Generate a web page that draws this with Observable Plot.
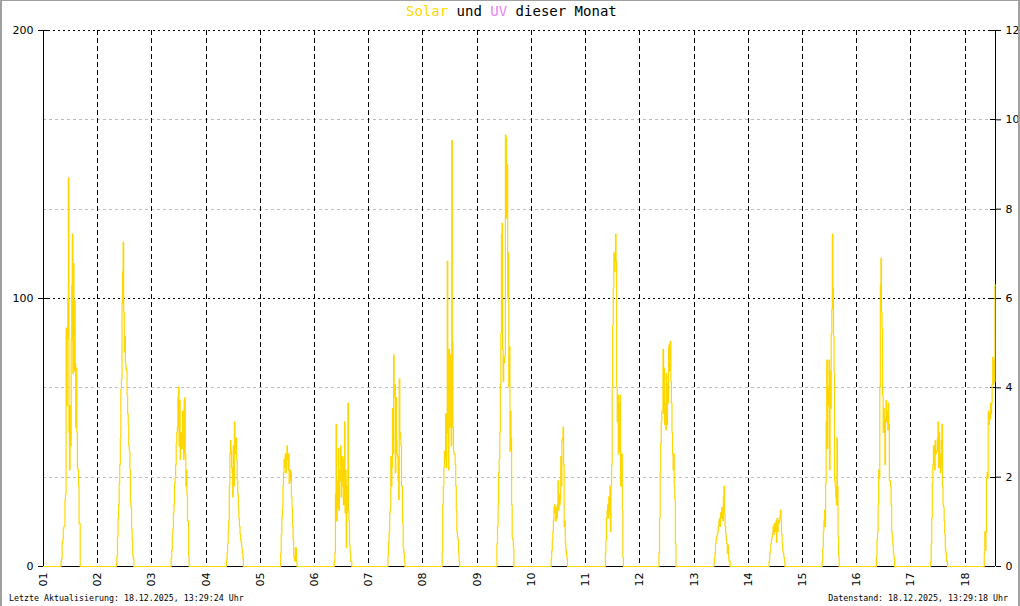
<!DOCTYPE html>
<html><head><meta charset="utf-8">
<script src="https://cdn.jsdelivr.net/npm/d3@7"></script>
<script src="https://cdn.jsdelivr.net/npm/@observablehq/plot@0.6"></script>
<style>
html,body{margin:0;padding:0;background:#fff;}
#wrap{position:relative;width:1020px;height:606px;overflow:hidden;background:#fff;}
#chart{position:absolute;left:0;top:0;}
#frame{position:absolute;left:0;top:0;width:1020px;height:606px;box-sizing:border-box;border-left:2px solid #a0a0a0;border-right:2px solid #a0a0a0;border-top:1px solid #a0a0a0;pointer-events:none;}
#title{position:absolute;left:406px;top:3px;font:14px "DejaVu Sans Mono",monospace;white-space:pre;color:#000;}
.foot{position:absolute;top:593px;font:8.3px "DejaVu Sans Mono",monospace;white-space:pre;color:#000;}
</style></head>
<body>
<div id="wrap">
  <div id="chart"></div>
  <div id="title"><span style="color:#FFD700">Solar</span> und <span style="color:#EE82EE">UV</span> dieser Monat</div>
  <div class="foot" style="left:9px">Letzte Aktualisierung: 18.12.2025, 13:29:24 Uhr</div>
  <div class="foot" style="right:12px">Datenstand: 18.12.2025, 13:29:18 Uhr</div>
  <div id="frame"></div>
</div>
<script>
// Day labels (x axis)
const dayLabels = ["01","02","03","04","05","06","07","08","09","10","11","12","13","14","15","16","17","18"];
// Left (solar) ticks and right (UV) ticks
const solarTicks = [0, 100, 200];
const uvTicks = [0, 2, 4, 6, 8, 10, 12];
const solarMax = 200, uvMax = 12;
// Hour of first non-zero reading each day; readings every 15 minutes afterwards
const dayStart = [7.75, 8.25, 8.5, 9.0, 9.0, 8.75, 8.5, 8.5, 8.75, 8.75, 8.75, 8.5, 8.75, 9.25, 8.75, 8.75, 8.75, 8.5];
// Last data time: 18.12. 13:29
const lastHour = 13 + 29 / 60;

const solar01 = [2,3,9,10,14,15,15,25,27,89,60,85,100,145,50,36,60,45,85,105,124,72,113,73,99,76,52,74,50,37,36,30,16,16];
const solar02 = [1,4,11,18,23,31,38,48,66,70,98,110,121,95,80,86,76,74,73,64,57,53,45,43,36,24,22,14,10,4,3];
const solar03 = [3,6,11,14,20,23,31,33,38,46,50,52,63,67,45,62,40,50,48,44,58,48,40,62,63,42,30,36,27,17,17,4];
const solar04 = [2.5,5,8.5,13,17,30,42,47,43,37,35,26,45,30,54,42,47,48,40,32,27,22,18,15,12,10,9,7,5,3];
const solar05 = [5,12,18,22,30,35,40,37,42,35,40,45,40,36,42,31,32,36,35,26,22,15,10,4,3,2,7,7,2];
const solar06 = [2,5,27,53,17,22,32,44,21,32,36,45,26,30,41,32,23,40,54,20,36,7,20,30,61,21,17,8,5,2,2];
const solar07 = [4,9,13,20,22,41,30,37,59,42,79,63,68,35,63,47,42,41,32,25,70,50,48,45,30,30,16,7,5,2];
const solar08 = [5,23,30,37,43,40,57,37,50,114,61,36,81,52,62,79,45,159,84,52,43,42,42,38,30,21,13,11,10,5,2];
const solar09 = [8.5,15,23,35,40,50,68,87,124,128,81,69,78,76,79,161,160,130,150,100,117,67,82,43,58,48,23,11,10,7];
const solar10 = [3,6,10,13,17,22,23,20,17,22,18,23,32,21,27,23,25,41,30,47,48,52,38,15,17,9,6,4,3];
const solar11 = [5,10,18,21,23,18,26,20,30,13,30,38,67,90,104,117,110,117,124,114,67,54,64,42,61,43,64,30,35,42,21,3.5];
const solar12 = [5,18,35,46,54,58,58,81,57,74,53,61,51,72,53,68,61,82,83,73,84,69,61,50,42,36,42,30,25,8.5];
const solar13 = [1,3,5,8.5,10,11,12,13,15,17,18,15,20,18,22,20,17,26,30,20,15,12,10,8.5,5,8,3.5,2,2];
const solar14 = [2,5,6,8.5,10,11,12,15,12,16,13,15,17,9,18,13,17,16,18,19,21,17,12,9,6,5,3.5,2];
const solar15 = [2,7,13,17,21,15,31,54,77,44,60,67,77,36,73,59,87,96,124,104,86,72,32,30,26,23,48,30,11,4];
const solar16 = [3.5,10,13,23,36,33,67,105,115,95,89,64,50,59,52,38,55,62,54,58,51,61,53,32,32,30,23,13,11,8,5,3.5];
const solar17 = [2,8.5,18,31,38,45,40,36,47,42,43,43,48,54,37,50,42,35,37,47,53,30,23,22,17,12,7,5,2,2];
const solar18 = [5,13,6,13,33,35,33,58,53,57,55,61,57,61,68,78,68,77,69,105];

const solarDays = [solar01,solar02,solar03,solar04,solar05,solar06,solar07,solar08,solar09,solar10,solar11,solar12,solar13,solar14,solar15,solar16,solar17,solar18];

// Build series (x in days since 01.12. 00:00)
const lastTime = (solarDays.length - 1) + lastHour / 24;
const pts = [{t: 0, v: 0}];
solarDays.forEach((vals, i) => {
  const s = dayStart[i];
  vals.forEach((v, j) => pts.push({t: i + (s + j * 0.25) / 24, v}));
  if (i < solarDays.length - 1) pts.push({t: i + (s + vals.length * 0.25) / 24, v: 0});
  else pts.push({t: lastTime, v: vals[vals.length - 1]});
});

const uvPos = uvTicks.map(u => u * solarMax / uvMax);
const grayGrid = uvPos.filter(p => !solarTicks.includes(Math.round(p)));
const dayIdx = dayLabels.map((_, i) => i);

const chart = Plot.plot({
  width: 1020, height: 606,
  marginLeft: 43, marginRight: 25, marginTop: 30, marginBottom: 40,
  x: {domain: [0, lastTime]},
  y: {domain: [0, solarMax]},
  style: {fontFamily: "'DejaVu Sans', sans-serif", fontSize: "11px", color: "#000", background: "transparent"},
  marks: [
    Plot.ruleY(grayGrid, {stroke: "#bdbdbd", strokeDasharray: "3,3", shapeRendering: "crispEdges"}),
    Plot.ruleY(solarTicks.filter(d => d > 0), {stroke: "#000", strokeDasharray: "2,3", shapeRendering: "crispEdges"}),
    Plot.ruleX(dayIdx.slice(1), {stroke: "#000", strokeDasharray: "5,3", shapeRendering: "crispEdges"}),
    Plot.ruleY([0], {stroke: "#000", shapeRendering: "crispEdges"}),
    Plot.ruleX([0, lastTime], {stroke: "#000", shapeRendering: "crispEdges"}),
    Plot.ruleY(solarTicks, {x1: 0, x2: 0, insetRight: -5, stroke: "#000", shapeRendering: "crispEdges"}),
    Plot.ruleY(uvPos, {x1: lastTime, x2: lastTime, insetLeft: -5, stroke: "#000", shapeRendering: "crispEdges"}),
    Plot.line(pts, {x: "t", y: "v", stroke: "#FFD700", strokeWidth: 1.2, curve: "step-after"}),
    Plot.axisY(solarTicks, {anchor: "left", tickSize: 5, tickPadding: 5, label: null, shapeRendering: "crispEdges"}),
    Plot.axisY(uvPos, {anchor: "right", tickSize: 5, tickPadding: 5, label: null, tickFormat: d => String(Math.round(d * uvMax / solarMax))}),
    Plot.axisX(dayIdx, {anchor: "bottom", tickRotate: -90, tickSize: 0, tickPadding: 6, label: null, tickFormat: i => dayLabels[i]})
  ]
});
document.getElementById("chart").appendChild(chart);
</script>
</body></html>
